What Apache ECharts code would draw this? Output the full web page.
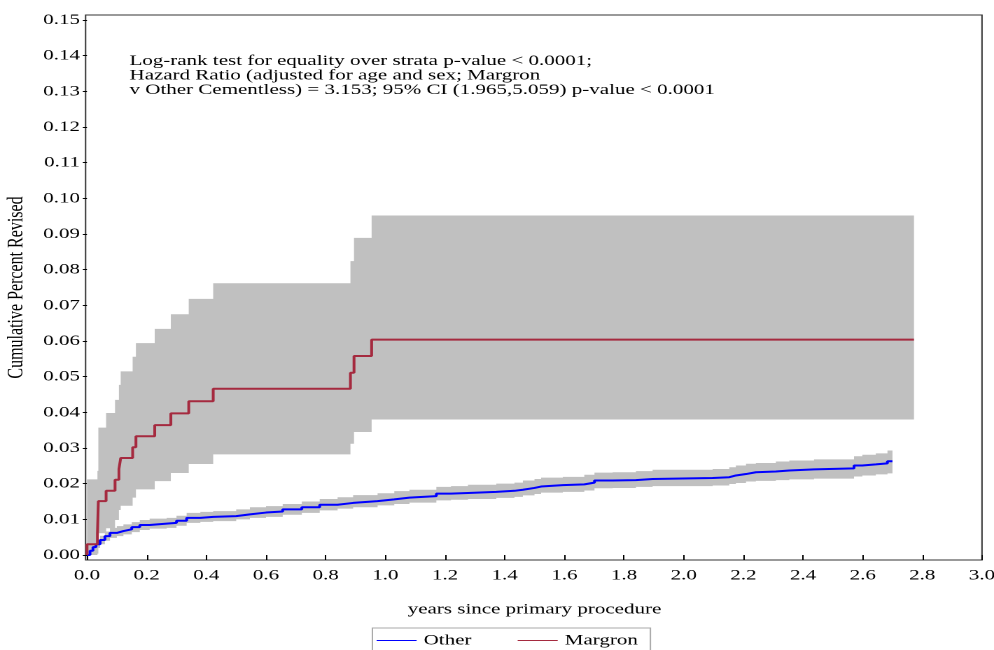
<!DOCTYPE html>
<html>
<head>
<meta charset="utf-8">
<script src="https://cdn.jsdelivr.net/npm/echarts@6/dist/echarts.min.js"></script>
<style>
html,body{margin:0;padding:0;background:#fff;overflow:hidden;}
#wrap{width:994px;height:650px;overflow:hidden;position:relative;}
#chart{width:710px;height:650px;transform:scaleX(1.4);transform-origin:0 0;}
</style>
</head>
<body>
<div id="wrap"><div id="chart"></div></div>
<script>
// ---- data ----
const annotationLines = [
  'Log-rank test for equality over strata p-value < 0.0001;',
  'Hazard Ratio (adjusted for age and sex; Margron',
  'v Other Cementless) = 3.153; 95% CI (1.965,5.059) p-value < 0.0001'
];
const legendNames = ['Other', 'Margron'];

const margronTime  = [0, 0, 0.035, 0.038, 0.064, 0.094, 0.107, 0.113, 0.153, 0.164, 0.227, 0.281, 0.341, 0.423, 0.883, 0.895, 0.954, 2.772];
const margronEst   = [0, 0.0030, 0.0060, 0.0151, 0.0180, 0.0211, 0.0241, 0.0272, 0.0302, 0.0333, 0.0364, 0.0397, 0.0431, 0.0466, 0.0511, 0.0558, 0.0604, 0.0604];
const margronLower = [0, 0, 0.0004, 0.0061, 0.0075, 0.0098, 0.0126, 0.0138, 0.0161, 0.0184, 0.0207, 0.0230, 0.0255, 0.0282, 0.0312, 0.0345, 0.0380, 0.0380];
const margronUpper = [0, 0.0212, 0.0236, 0.0357, 0.0398, 0.0435, 0.0477, 0.0515, 0.0556, 0.0594, 0.0634, 0.0675, 0.0718, 0.0762, 0.0824, 0.0889, 0.0952, 0.0952];

const otherTime  = [0, 0.01, 0.02, 0.03, 0.044, 0.06, 0.077, 0.10, 0.122, 0.15, 0.177, 0.21, 0.267, 0.30, 0.334, 0.38, 0.423, 0.50, 0.546, 0.60, 0.656, 0.72, 0.78, 0.84, 0.892, 0.974, 1.03, 1.081, 1.171, 1.22, 1.277, 1.372, 1.433, 1.461, 1.50, 1.522, 1.595, 1.667, 1.701, 1.762, 1.84, 1.896, 2.097, 2.153, 2.175, 2.209, 2.242, 2.309, 2.354, 2.437, 2.571, 2.599, 2.644, 2.683, 2.70];
const otherEst   = [0, 0.0012, 0.0022, 0.0030, 0.0042, 0.0053, 0.0062, 0.0067, 0.0072, 0.0078, 0.0084, 0.0088, 0.0090, 0.0096, 0.0104, 0.0107, 0.0109, 0.0114, 0.0119, 0.0122, 0.0128, 0.0134, 0.0141, 0.0146, 0.0151, 0.0156, 0.0161, 0.0165, 0.0172, 0.0174, 0.0177, 0.0180, 0.0183, 0.0188, 0.0192, 0.0196, 0.0198, 0.0203, 0.0209, 0.0210, 0.0213, 0.0216, 0.0218, 0.0223, 0.0227, 0.0232, 0.0234, 0.0237, 0.0240, 0.0243, 0.0251, 0.0254, 0.0257, 0.0263, 0.0263];
const otherLower = [0, 0.0006, 0.0014, 0.0020, 0.0030, 0.0040, 0.0048, 0.0053, 0.0058, 0.0064, 0.0070, 0.0074, 0.0076, 0.0082, 0.0090, 0.0093, 0.0095, 0.0100, 0.0104, 0.0107, 0.0113, 0.0118, 0.0125, 0.0130, 0.0134, 0.0139, 0.0143, 0.0147, 0.0153, 0.0155, 0.0157, 0.0160, 0.0163, 0.0167, 0.0171, 0.0175, 0.0177, 0.0181, 0.0187, 0.0188, 0.0191, 0.0193, 0.0195, 0.0199, 0.0202, 0.0206, 0.0208, 0.0210, 0.0212, 0.0214, 0.0220, 0.0223, 0.0226, 0.0229, 0.0229];
const otherUpper = [0, 0.0018, 0.0030, 0.0040, 0.0054, 0.0066, 0.0076, 0.0081, 0.0086, 0.0092, 0.0098, 0.0102, 0.0104, 0.0110, 0.0118, 0.0121, 0.0123, 0.0128, 0.0134, 0.0137, 0.0143, 0.0150, 0.0157, 0.0162, 0.0168, 0.0173, 0.0179, 0.0183, 0.0191, 0.0193, 0.0197, 0.0200, 0.0203, 0.0209, 0.0213, 0.0217, 0.0219, 0.0225, 0.0231, 0.0232, 0.0235, 0.0239, 0.0241, 0.0246, 0.0251, 0.0256, 0.0258, 0.0262, 0.0265, 0.0268, 0.0277, 0.0281, 0.0285, 0.0293, 0.0293];

// ---- styling ----
const FONT = 'Liberation Serif';
const BAND = '#c0c0c0';
const BLUE = '#0000ff';
const RED = '#a52a3f';

function bandSeries(name, times, lower, upper) {
  const rows = times.map((t, i) => [t, lower[i], upper[i]]);
  return {
    type: 'custom', name: name, xAxisIndex: 0, yAxisIndex: 0,
    clip: true, silent: true, z: 1,
    data: rows,
    encode: { x: 0, y: [1, 2] },
    renderItem: function (params, api) {
      if (params.dataIndex !== 0) return null;
      const top = [], bot = [];
      for (let i = 0; i < rows.length; i++) {
        const t = rows[i][0];
        const tn = i + 1 < rows.length ? rows[i + 1][0] : t;
        top.push(api.coord([t, rows[i][2]]), api.coord([tn, rows[i][2]]));
        bot.push(api.coord([t, rows[i][1]]), api.coord([tn, rows[i][1]]));
      }
      return {
        type: 'polygon',
        shape: { points: top.concat(bot.reverse()) },
        style: { fill: BAND, stroke: null }
      };
    }
  };
}

const chart = echarts.init(document.getElementById('chart'), null, { renderer: 'canvas', devicePixelRatio: 2 });

chart.setOption({
  animation: false,
  backgroundColor: '#fff',
  title: {
    text: annotationLines.join('\n'),
    left: 92.5, top: 54, padding: 0,
    textStyle: { fontFamily: FONT, fontSize: 15, fontWeight: 'normal', color: '#000', lineHeight: 14.5 }
  },
  legend: {
    data: legendNames,
    left: 266, top: 628,
    padding: [5, 9, 5, 3],
    itemGap: 33, itemWidth: 28.6, itemHeight: 1,
    icon: 'rect',
    borderColor: '#aaa', borderWidth: 1,
    textStyle: { fontFamily: FONT, fontSize: 15, color: '#000' }
  },
  grid: [
    { left: 62.14, right: 8.57, top: 20, bottom: 95, show: false, containLabel: false, outerBoundsMode: 'none' },
    { left: 61.14, right: 8.57, top: 15, bottom: 90, show: true, borderColor: '#333', borderWidth: 1, backgroundColor: 'transparent', containLabel: false, outerBoundsMode: 'none' }
  ],
  xAxis: [
    {
      gridIndex: 0, type: 'value', min: 0, max: 3, interval: 0.2, offset: 5,
      axisLine: { show: false },
      axisTick: { show: true, length: 5, inside: false, lineStyle: { color: '#000' } },
      axisLabel: { formatter: v => v.toFixed(1), fontFamily: FONT, fontSize: 15, color: '#000', margin: 8 },
      splitLine: { show: false },
      name: 'years since primary procedure', nameLocation: 'middle', nameGap: 42,
      nameTextStyle: { fontFamily: FONT, fontSize: 15, color: '#000' }
    },
    { gridIndex: 1, type: 'value', min: 0, max: 1, show: false }
  ],
  yAxis: [
    {
      gridIndex: 0, type: 'value', min: 0, max: 0.15, interval: 0.01, offset: 1,
      axisLine: { show: false },
      axisTick: { show: true, length: 3, inside: false, lineStyle: { color: '#000' } },
      axisLabel: { formatter: v => v.toFixed(2), fontFamily: FONT, fontSize: 15, color: '#000', margin: 4 },
      splitLine: { show: false },
      name: 'Cumulative Percent Revised', nameLocation: 'middle', nameGap: 37, nameRotate: 90,
      nameTextStyle: { fontFamily: FONT, fontSize: 16, color: '#000' }
    },
    { gridIndex: 1, type: 'value', min: 0, max: 1, show: false }
  ],
  series: [
    bandSeries('Margron CI', margronTime, margronLower, margronUpper),
    bandSeries('Other CI', otherTime, otherLower, otherUpper),
    {
      type: 'line', name: 'Other', xAxisIndex: 0, yAxisIndex: 0, step: 'end',
      data: otherTime.map((t, i) => [t, otherEst[i]]),
      showSymbol: false, symbol: 'none', z: 3,
      lineStyle: { color: BLUE, width: 2 }, itemStyle: { color: BLUE }
    },
    {
      type: 'line', name: 'Margron', xAxisIndex: 0, yAxisIndex: 0, step: 'end',
      data: margronTime.map((t, i) => [t, margronEst[i]]),
      showSymbol: false, symbol: 'none', z: 4,
      lineStyle: { color: RED, width: 2 }, itemStyle: { color: RED }
    }
  ]
});
</script>
</body>
</html>
